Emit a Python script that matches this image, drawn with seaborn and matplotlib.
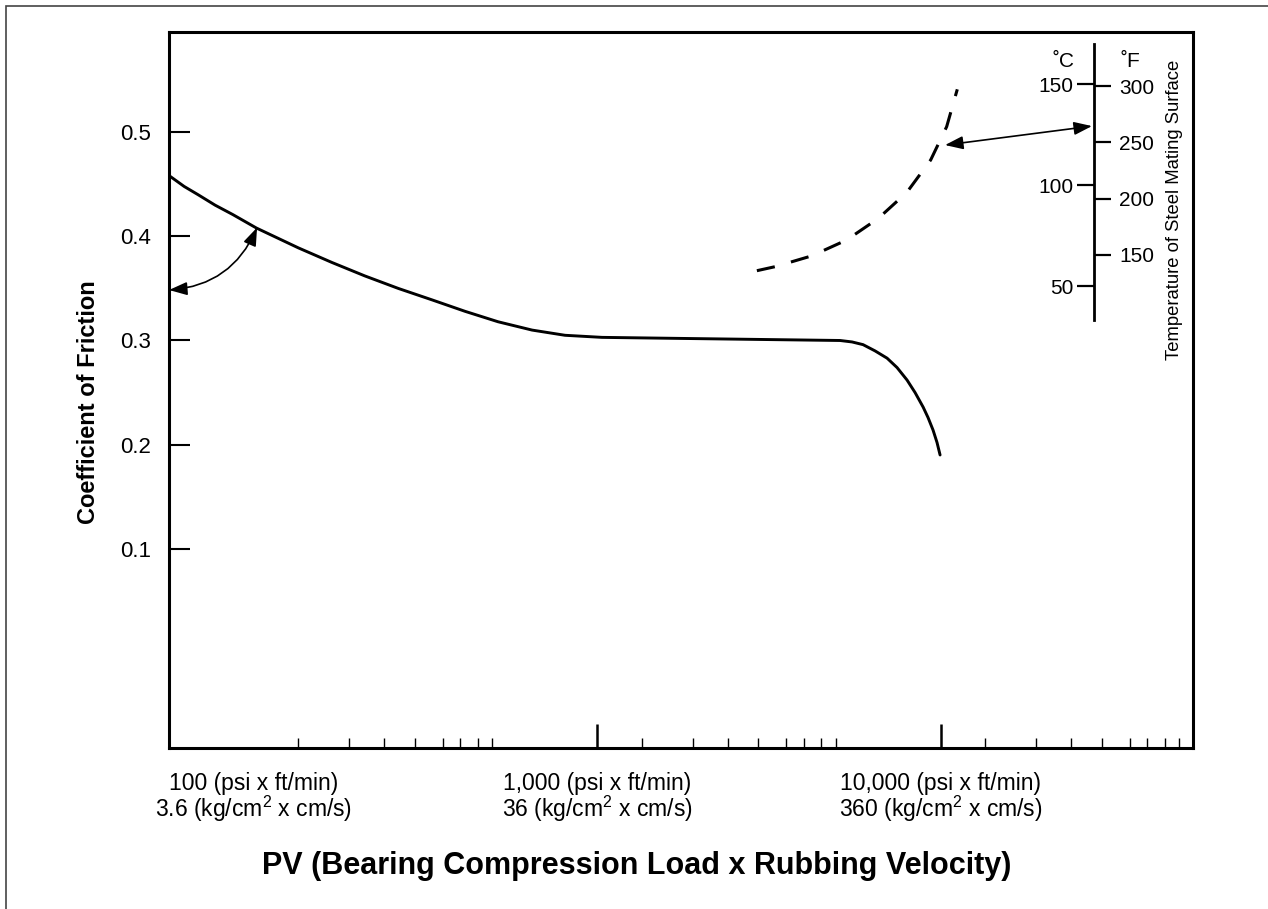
import matplotlib
matplotlib.use('Agg')
import matplotlib.pyplot as plt
import matplotlib.patches as mpatches
import seaborn as sns

# coefficient of friction vs PV (psi x ft/min)
pv_friction = [57, 62.8, 69, 77.3, 87, 102, 135, 169, 211, 264, 331, 413, 515, 647, 807,
               1034, 1744, 2980, 5100, 5527, 5950, 6448, 6990, 7472, 7990, 8431,
               8900, 9196, 9510, 9768, 9970]
friction = [0.458, 0.448, 0.440, 0.430, 0.421, 0.408, 0.389, 0.375, 0.362, 0.350,
            0.339, 0.328, 0.318, 0.310, 0.305, 0.303, 0.302, 0.301, 0.300, 0.2986,
            0.296, 0.290, 0.283, 0.274, 0.262, 0.250, 0.236, 0.226, 0.214, 0.202,
            0.190]

# temperature of steel mating surface (deg C) vs PV
pv_temp = [2920, 3300, 4210, 5330, 6590, 7980, 9360, 10420, 11190]
temp_c = [57.6, 59.6, 64.9, 72.8, 83.5, 96.4, 112.4, 128.9, 147.4]

# axis ticks / labels
pv_ticks = [100, 1000, 10000]
pv_labels = ['100 (psi x ft/min)\n3.6 (kg/cm$^2$ x cm/s)',
             '1,000 (psi x ft/min)\n36 (kg/cm$^2$ x cm/s)',
             '10,000 (psi x ft/min)\n360 (kg/cm$^2$ x cm/s)']
minor_steps = [1.35, 1.9, 2.4, 2.95, 3.55, 4.0, 4.5, 4.95]
friction_ticks = [0.1, 0.2, 0.3, 0.4, 0.5]
temp_c_ticks = [50, 100, 150]
temp_f_ticks = [150, 200, 250, 300]

pv_lim = (56.75, 54350)
friction_lim = (-0.0915, 0.5968)
temp_lim = (-178.7, 176.0)   # deg C spanned by the same plot height
temp_bounds = (33, 170)

sns.set_theme(style='white')
plt.rcParams['font.family'] = ['Liberation Sans', 'DejaVu Sans']
plt.rcParams['mathtext.fontset'] = 'custom'
plt.rcParams['mathtext.rm'] = 'Liberation Sans'
plt.rcParams['text.color'] = 'black'
plt.rcParams['axes.labelcolor'] = 'black'

fig = plt.figure(figsize=(12.68, 9.09), dpi=100)
ax = fig.add_axes([0.1333, 0.1771, 0.8076, 0.7882])

# outer frame (cut by the image border on right and bottom)
fig.patches.append(mpatches.Rectangle((0.0051, -0.05), 1.2, 1.04285,
                                      transform=fig.transFigure, fill=False,
                                      edgecolor='#444444', lw=1.2))

sns.lineplot(x=pv_friction, y=friction, ax=ax, color='black', lw=2.1,
             sort=False, estimator=None)
ax.set_xscale('log')
ax.set_xlim(*pv_lim)
ax.set_ylim(*friction_lim)

for s in ax.spines.values():
    s.set_linewidth(2.2)
    s.set_color('black')

ax.set_yticks(friction_ticks)
ax.set_yticklabels([f'{v:.1f}' for v in friction_ticks])
ax.tick_params(axis='y', direction='in', length=15, width=1.5, pad=13,
               labelsize=16, left=True, colors='black')

ax.set_xticks(pv_ticks)
ax.set_xticklabels(pv_labels)
ax.set_xticks([d * m for d in pv_ticks for m in minor_steps], minor=True)
ax.xaxis.set_minor_formatter(matplotlib.ticker.NullFormatter())
ax.tick_params(axis='x', which='major', direction='in', length=17, width=1.8,
               pad=17, labelsize=16.5, bottom=True, colors='black')
ax.tick_params(axis='x', which='minor', direction='in', length=7, width=1,
               bottom=True, colors='black')
ax.xaxis.get_major_ticks()[0].tick1line.set_visible(False)
for lab in ax.get_xticklabels():
    lab.set_multialignment('center')
    lab.set_linespacing(0.95)

ax.set_xlabel('PV (Bearing Compression Load x Rubbing Velocity)',
              fontsize=22, fontweight='bold', color='black')
ax.xaxis.set_label_coords(0.457, -0.165)
ax.xaxis.label.set_va('center')
ax.set_ylabel('Coefficient of Friction', fontsize=17, fontweight='bold',
              color='black')
ax.yaxis.set_label_coords(-0.079, 0.483)
ax.yaxis.label.set_va('center')

# curved arrow between friction curve and axis
ax.annotate('', xy=(102.4, 0.4085), xytext=(pv_lim[0], 0.3485),
            arrowprops=dict(arrowstyle='<|-|>,head_length=0.55,head_width=0.2',
                            connectionstyle='arc3,rad=0.3', color='black',
                            lw=1.2, shrinkA=0, shrinkB=0, mutation_scale=20))

# temperature axis
ax_t = ax.twinx()
ax_t.set_ylim(*temp_lim)
for s in ax_t.spines.values():
    s.set_visible(False)
ax_t.set_yticks([])

sns.lineplot(x=pv_temp, y=temp_c, ax=ax_t, color='black', lw=2.2,
             sort=False, estimator=None, linestyle=(0, (6, 5.5)))

sec_c = ax_t.secondary_yaxis(0.9033)
sec_c.set_alignment('left')
sec_c.spines['left'].set_bounds(*temp_bounds)
sec_c.spines['left'].set_linewidth(2)
sec_c.spines['left'].set_color('black')
sec_c.set_yticks(temp_c_ticks)
sec_c.tick_params(axis='y', direction='out', length=12, width=1.6, pad=3,
                  labelsize=15, colors='black')

f2c = lambda f: (f - 32) / 1.8
c2f = lambda c: c * 1.8 + 32
sec_f = ax_t.secondary_yaxis(0.9033, functions=(c2f, f2c))
sec_f.set_alignment('right')
sec_f.spines['right'].set_visible(False)
sec_f.set_yticks(temp_f_ticks)
sec_f.tick_params(axis='y', direction='out', length=12, width=1.6, pad=6,
                  labelsize=15, colors='black')

ax.text(0.873, 0.958, '˚C', transform=ax.transAxes, ha='center', va='center',
        fontsize=15)
ax.text(0.939, 0.958, '˚F', transform=ax.transAxes, ha='center', va='center',
        fontsize=15)
ax.text(0.982, 0.751, 'Temperature of Steel Mating Surface', transform=ax.transAxes,
        rotation=90, ha='center', va='center', fontsize=13.3)

ax_t.annotate('', xy=(27600, 129.2), xytext=(10306, 119.8),
              arrowprops=dict(arrowstyle='<|-|>,head_length=0.55,head_width=0.2',
                              color='black', lw=1.2, shrinkA=0, shrinkB=0,
                              mutation_scale=20))

fig.savefig('out.png', dpi=100, facecolor='white')
